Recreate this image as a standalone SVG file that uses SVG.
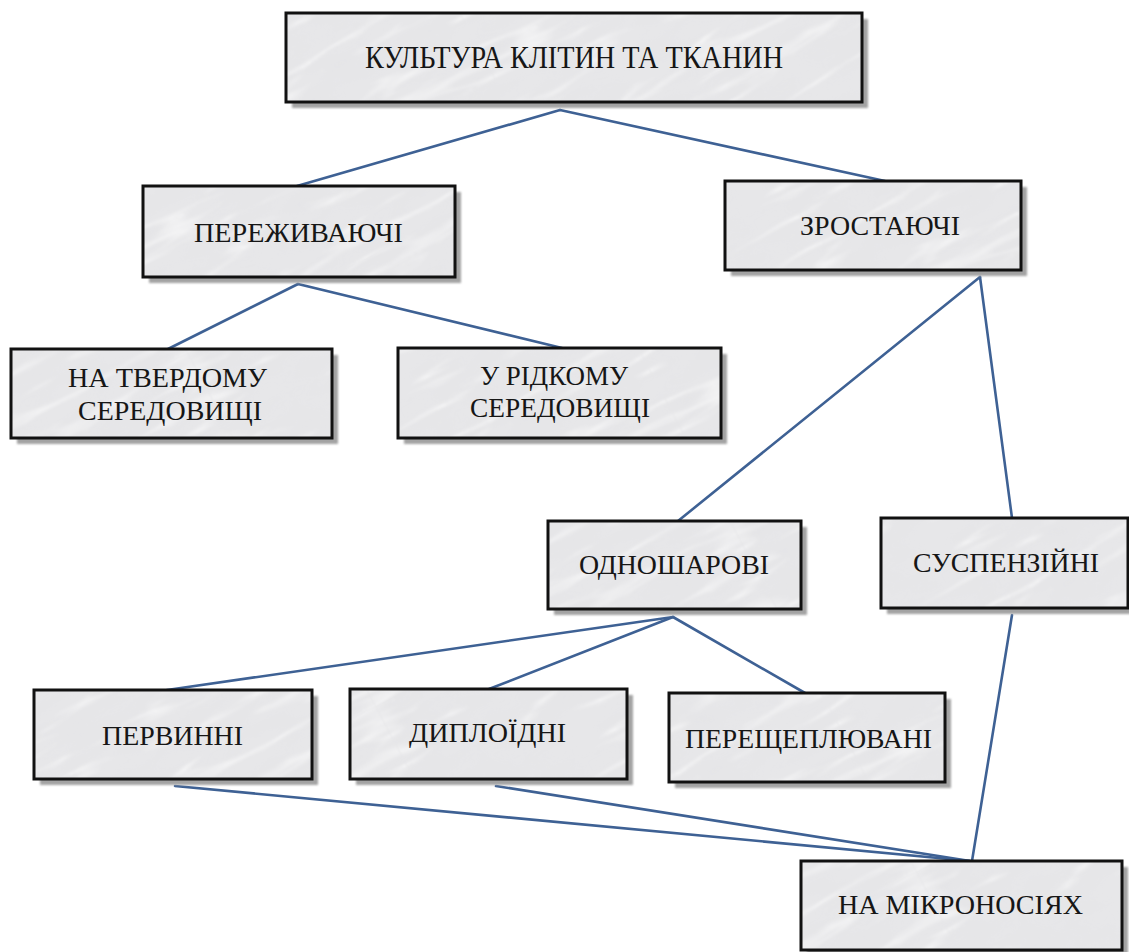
<svg xmlns="http://www.w3.org/2000/svg" width="1129" height="952" viewBox="0 0 1129 952">
  <style>
    .shadow { fill: #a3a3a3; filter: url(#soft); }
    .box { fill: url(#marble); stroke: none; }
    .frame { fill: none; stroke: #111111; stroke-width: 3; }
    .lbl { font-family: "Liberation Serif", "DejaVu Serif", "Times New Roman", serif; font-size: 28px; fill: #161616; text-anchor: middle; }
    .conn line { stroke: #3e6194; stroke-width: 2.6; stroke-linecap: round; }
  </style>
  <defs>
    <filter id="soft" x="-5%" y="-5%" width="110%" height="110%">
      <feGaussianBlur stdDeviation="1"/>
    </filter>
    <filter id="veins" x="0" y="0" width="1" height="1">
      <feTurbulence type="turbulence" baseFrequency="0.005 0.03" numOctaves="3" seed="7" stitchTiles="stitch" result="t"/>
      <feColorMatrix in="t" type="matrix" values="0 0 0 0 1  0 0 0 0 1  0 0 0 0 1  -3 0 0 0 0.55" result="w"/>
      <feGaussianBlur in="w" stdDeviation="1" result="wb"/>
      <feTurbulence type="fractalNoise" baseFrequency="0.02 0.05" numOctaves="2" seed="3" stitchTiles="stitch" result="n"/>
      <feColorMatrix in="n" type="matrix" values="0 0 0 0 0.72  0 0 0 0 0.72  0 0 0 0 0.74  0 0 0 0.3 -0.1" result="g"/>
      <feMerge><feMergeNode in="g"/><feMergeNode in="wb"/></feMerge>
    </filter>
    <pattern id="marble" patternUnits="userSpaceOnUse" width="400" height="400" patternTransform="rotate(-28)">
      <rect width="400" height="400" fill="#e7e7e9"/>
      <rect width="400" height="400" fill="#ffffff" filter="url(#veins)"/>
    </pattern>
  </defs>

  <g id="connectors" class="conn">
    <line x1="560" y1="110" x2="297" y2="186"/>
    <line x1="560" y1="110" x2="885" y2="181"/>
    <line x1="298" y1="284" x2="168" y2="349"/>
    <line x1="298" y1="284" x2="562" y2="348"/>
    <line x1="980" y1="277" x2="678" y2="521"/>
    <line x1="980" y1="277" x2="1012" y2="518"/>
    <line x1="673" y1="617" x2="167" y2="690"/>
    <line x1="673" y1="617" x2="489" y2="689"/>
    <line x1="673" y1="617" x2="805" y2="693"/>
    <line x1="175" y1="786" x2="970" y2="861"/>
    <line x1="496" y1="786" x2="970" y2="861"/>
    <line x1="1012" y1="615" x2="972" y2="861"/>
  </g>

  <g id="node-culture">
    <rect class="shadow" x="292" y="19" width="576" height="89"/>
    <rect class="box" x="286" y="13" width="576" height="89"/>
    <rect class="frame" x="286" y="13" width="576" height="89"/>
    <text class="lbl" style="font-size:31px" x="574" y="68" textLength="418" lengthAdjust="spacingAndGlyphs">КУЛЬТУРА КЛІТИН ТА ТКАНИН</text>
  </g>

  <g id="node-surviving">
    <rect class="shadow" x="149" y="192" width="312" height="91"/>
    <rect class="box" x="143" y="186" width="312" height="91"/>
    <rect class="frame" x="143" y="186" width="312" height="91"/>
    <text class="lbl" x="298.5" y="242" textLength="209" lengthAdjust="spacingAndGlyphs">ПЕРЕЖИВАЮЧІ</text>
  </g>

  <g id="node-growing">
    <rect class="shadow" x="731" y="187" width="296" height="89"/>
    <rect class="box" x="725" y="181" width="296" height="89"/>
    <rect class="frame" x="725" y="181" width="296" height="89"/>
    <text class="lbl" x="880" y="235" textLength="160" lengthAdjust="spacingAndGlyphs">ЗРОСТАЮЧІ</text>
  </g>

  <g id="node-solid">
    <rect class="shadow" x="17" y="355" width="321" height="89"/>
    <rect class="box" x="11" y="349" width="321" height="89"/>
    <rect class="frame" x="11" y="349" width="321" height="89"/>
    <text class="lbl" x="167.5" y="387" textLength="199" lengthAdjust="spacingAndGlyphs">НА ТВЕРДОМУ</text>
    <text class="lbl" x="170" y="420" textLength="184" lengthAdjust="spacingAndGlyphs">СЕРЕДОВИЩІ</text>
  </g>

  <g id="node-liquid">
    <rect class="shadow" x="404" y="354" width="323" height="90"/>
    <rect class="box" x="398" y="348" width="323" height="90"/>
    <rect class="frame" x="398" y="348" width="323" height="90"/>
    <text class="lbl" x="554" y="385" textLength="148" lengthAdjust="spacingAndGlyphs">У РІДКОМУ</text>
    <text class="lbl" x="560" y="417" textLength="180" lengthAdjust="spacingAndGlyphs">СЕРЕДОВИЩІ</text>
  </g>

  <g id="node-monolayer">
    <rect class="shadow" x="554" y="527" width="253" height="88"/>
    <rect class="box" x="548" y="521" width="253" height="88"/>
    <rect class="frame" x="548" y="521" width="253" height="88"/>
    <text class="lbl" x="674" y="574" textLength="190" lengthAdjust="spacingAndGlyphs">ОДНОШАРОВІ</text>
  </g>

  <g id="node-suspension">
    <rect class="shadow" x="887" y="524" width="247" height="90"/>
    <rect class="box" x="881" y="518" width="247" height="90"/>
    <rect class="frame" x="881" y="518" width="247" height="90"/>
    <text class="lbl" x="1006" y="572" textLength="186" lengthAdjust="spacingAndGlyphs">СУСПЕНЗІЙНІ</text>
  </g>

  <g id="node-primary">
    <rect class="shadow" x="40" y="696" width="278" height="89"/>
    <rect class="box" x="34" y="690" width="278" height="89"/>
    <rect class="frame" x="34" y="690" width="278" height="89"/>
    <text class="lbl" x="172.5" y="745" textLength="141" lengthAdjust="spacingAndGlyphs">ПЕРВИННІ</text>
  </g>

  <g id="node-diploid">
    <rect class="shadow" x="356" y="695" width="277" height="90"/>
    <rect class="box" x="350" y="689" width="277" height="90"/>
    <rect class="frame" x="350" y="689" width="277" height="90"/>
    <text class="lbl" x="487.5" y="742" textLength="157" lengthAdjust="spacingAndGlyphs">ДИПЛОЇДНІ</text>
  </g>

  <g id="node-passaged">
    <rect class="shadow" x="675" y="699" width="276" height="89"/>
    <rect class="box" x="669" y="693" width="276" height="89"/>
    <rect class="frame" x="669" y="693" width="276" height="89"/>
    <text class="lbl" x="808.5" y="748" textLength="247" lengthAdjust="spacingAndGlyphs">ПЕРЕЩЕПЛЮВАНІ</text>
  </g>

  <g id="node-microcarriers">
    <rect class="shadow" x="807" y="867" width="321" height="89"/>
    <rect class="box" x="801" y="861" width="321" height="89"/>
    <rect class="frame" x="801" y="861" width="321" height="89"/>
    <text class="lbl" x="960.5" y="914" textLength="245" lengthAdjust="spacingAndGlyphs">НА МІКРОНОСІЯХ</text>
  </g>
</svg>
